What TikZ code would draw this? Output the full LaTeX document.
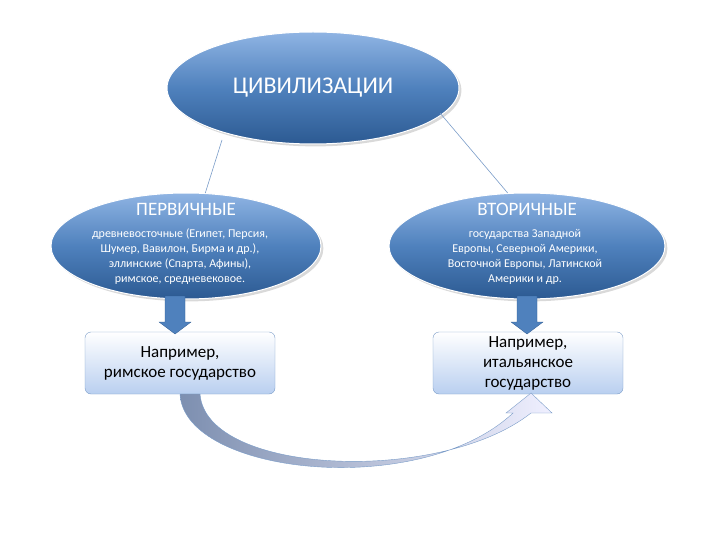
\documentclass[tikz,border=0pt]{standalone}
\usepackage{fontspec}
\setmainfont{Carlito}
\usetikzlibrary{shapes.geometric,shadows}
\definecolor{etop}{HTML}{8FB4E3}
\definecolor{emid}{HTML}{4F81BD}
\definecolor{ebot}{HTML}{2C5A92}
\definecolor{bbot}{HTML}{B9CFF0}
\definecolor{bline}{HTML}{7A9CC8}
\definecolor{agray}{HTML}{7D8FB0}
\begin{document}
\begin{tikzpicture}[x=1pt,y=-1pt,
  ell/.style={ellipse,draw=white,line width=1pt,top color=etop,bottom color=ebot,middle color=emid,text=white,align=center,drop shadow={opacity=0.3}},
  box/.style={rounded corners=6pt,draw=bline,top color=white,bottom color=bbot,align=center,font=\fontsize{17}{20}\selectfont},
  blk/.style={fill=emid,draw=ebot,line width=0.3pt},
  thin/.style={draw=bline,line width=0.6pt}]
\useasboundingbox (0,0) rectangle (720,540);
\node[ell,minimum width=292pt,minimum height=112pt,font=\fontsize{24}{26}\selectfont] (top) at (313,88) {ЦИВИЛИЗАЦИИ};
\node[ell,minimum width=270pt,minimum height=106pt] (l) at (186,246) {};
\node[ell,minimum width=276pt,minimum height=106pt] (r) at (527,246) {};
\node[text=white,font=\fontsize{19}{21}\selectfont] (lt) at (186,209) {ПЕРВИЧНЫЕ};
\node[text=white,font=\fontsize{19}{21}\selectfont] (rt) at (527,209) {ВТОРИЧНЫЕ};
\node[text=white,align=center,font=\fontsize{12}{15}\selectfont] (lb) at (180,257) {древневосточные (Египет, Персия,\\Шумер, Вавилон, Бирма и др.),\\эллинские (Спарта, Афины),\\римское, средневековое.};
\node[text=white,align=center,font=\fontsize{12}{15}\selectfont] (rb) at (525,257) {государства Западной\\Европы, Северной Америки,\\Восточной Европы, Латинской\\Америки и др.};
\node[box,minimum width=190pt,minimum height=62pt] (bl) at (180,363) {Например,\\римское государство};
\node[box,minimum width=190pt,minimum height=62pt] (br) at (528,363) {Например,\\итальянское\\государство};
\coordinate (t1) at (222,140); \coordinate (t2) at (440,113);
\draw[thin] (t1) -- (l.70);
\draw[thin] (t2) -- (r.110);
\fill[blk] (165,296) -- (185,296) -- (185,322) -- (191,322) -- (175,334) -- (159,322) -- (165,322) -- cycle;
\fill[blk] (517,296) -- (537,296) -- (537,322) -- (543,322) -- (527,334) -- (511,322) -- (517,322) -- cycle;
\shade[left color=agray,right color=blue!6!white,draw=bline,line width=0.4pt]
 (180,394) .. controls (184,475) and (420,500) .. (513,413) -- (506,413) -- (531,393) -- (552,413) -- (531,413)
 .. controls (440,485) and (206,475) .. (200,394) -- cycle;
\end{tikzpicture}
\end{document}
